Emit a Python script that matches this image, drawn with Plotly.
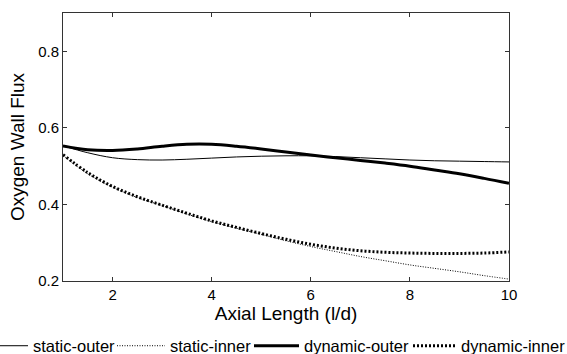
import plotly.graph_objects as go

x = [1, 1.5, 2, 2.5, 3, 3.5, 4, 4.5, 5, 5.5, 6, 6.5, 7, 7.5, 8, 8.5, 9, 9.5, 10]
static_outer = [0.553, 0.535, 0.522, 0.517, 0.516, 0.518, 0.521, 0.524, 0.526, 0.527, 0.527,
                0.525, 0.522, 0.519, 0.516, 0.514, 0.513, 0.512, 0.511]
static_inner = [0.528, 0.480, 0.445, 0.418, 0.397, 0.375, 0.355, 0.338, 0.322, 0.305, 0.290,
                0.277, 0.264, 0.253, 0.242, 0.233, 0.224, 0.214, 0.205]
dynamic_outer = [0.553, 0.543, 0.541, 0.545, 0.552, 0.557, 0.557, 0.552, 0.545, 0.537, 0.529,
                 0.522, 0.515, 0.508, 0.500, 0.490, 0.480, 0.468, 0.455]
dynamic_inner = [0.530, 0.483, 0.447, 0.420, 0.398, 0.377, 0.357, 0.340, 0.324, 0.309, 0.296,
                 0.286, 0.279, 0.275, 0.273, 0.272, 0.272, 0.273, 0.276]

series = [
    ("static-outer", static_outer, 1, "solid"),
    ("static-inner", static_inner, 1, "1px,1.5px"),
    ("dynamic-outer", dynamic_outer, 3, "solid"),
    ("dynamic-inner", dynamic_inner, 3, "2px,2px"),
]
legend_ids = ["legend", "legend2", "legend3", "legend4"]
legend_x_px = [-7, 112, 249, 408]
legend_item_w = [30, 48, 45, 43]

fig = go.Figure()
for (name, ys, w, dash), lid in zip(series, legend_ids):
    fig.add_trace(go.Scatter(x=x, y=ys, name=name, mode="lines", legend=lid,
                             line=dict(color="black", width=w, dash=dash, shape="spline")))

axis_common = dict(showline=True, linecolor="#333333", linewidth=1, mirror="ticks",
                   ticks="inside", ticklen=4, tickcolor="#333333", showgrid=False,
                   zeroline=False, tickfont=dict(size=15, color="black"))

W, H = 567, 354
ML, MR, MT, MB = 63, 58, 13, 73
PW = W - ML - MR
legends = {}
for lid, px, iw in zip(legend_ids, legend_x_px, legend_item_w):
    legends[lid] = dict(orientation="h", xref="paper", yref="container",
                        x=(px - ML) / PW, y=8 / H, xanchor="left", yanchor="middle",
                        font=dict(size=16.5, color="black"), itemwidth=iw,
                        bgcolor="rgba(0,0,0,0)", borderwidth=0)

fig.update_layout(
    width=W, height=H,
    paper_bgcolor="white", plot_bgcolor="white",
    font=dict(family="Liberation Sans, Arial, sans-serif", size=15.5, color="black"),
    margin=dict(l=ML, r=MR, t=MT, b=MB, autoexpand=False),
    xaxis=dict(range=[1, 10], tickvals=[2, 4, 6, 8, 10],
               title=dict(text="Axial Length (l/d)", standoff=4), **axis_common),
    yaxis=dict(range=[0.2, 0.9], tickvals=[0.2, 0.4, 0.6, 0.8], tickformat=".1f",
               title=dict(text="Oxygen Wall Flux", standoff=8), **axis_common),
    showlegend=True,
    hovermode=False,
    **legends,
)

fig.write_html("out.html", config={"displayModeBar": False},
               post_script="document.body.style.margin='0';")
